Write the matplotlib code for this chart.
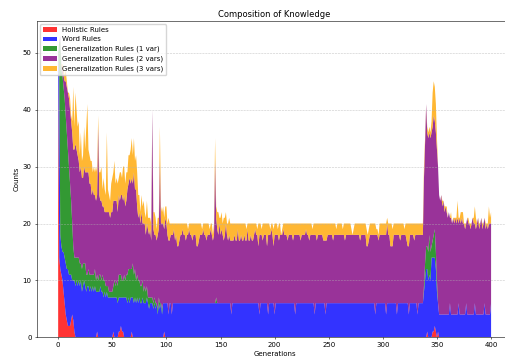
import matplotlib
matplotlib.use("Agg")
import matplotlib.pyplot as plt

# ---------------- data (generation 0..400) ----------------
holistic = [
    50,14,12,11,10,8,6,4,3,2,2,2,3,4,3,1,0,0,0,0,
    0,0,0,0,0,0,0,0,0,0,0,0,0,0,0,0,1,0,0,0,
    0,0,0,0,0,0,0,0,0,0,0,1,0,0,0,0,1,1,2,1,
    1,0,0,0,0,0,0,0,1,0,0,0,0,0,0,0,0,0,0,0,
    0,0,0,0,0,0,0,0,0,0,0,0,0,0,0,0,0,0,1,0,
    0,0,0,0,0,0,0,0,0,0,0,0,0,0,0,0,0,0,0,0,
    0,0,0,0,0,0,0,0,0,0,0,0,0,0,0,0,0,0,0,0,
    0,0,0,0,0,0,0,0,0,0,0,0,0,0,0,0,0,0,0,0,
    0,0,0,0,0,0,0,0,0,0,0,0,0,0,0,0,0,0,0,0,
    0,0,0,0,0,0,0,0,0,0,0,0,0,0,0,0,0,0,0,0,
    0,0,0,0,0,0,0,0,0,0,0,0,0,0,0,0,0,0,0,0,
    0,0,0,0,0,0,0,0,0,0,0,0,0,0,0,0,0,0,0,0,
    0,0,0,0,0,0,0,0,0,0,0,0,0,0,0,0,0,0,0,0,
    0,0,0,0,0,0,0,0,0,0,0,0,0,0,0,0,0,0,0,0,
    0,0,0,0,0,0,0,0,0,0,0,0,0,0,0,0,0,0,0,0,
    0,0,0,0,0,0,0,0,0,0,0,0,0,0,0,0,0,0,0,0,
    0,0,0,0,0,0,0,0,0,0,0,0,0,0,0,0,0,0,0,0,
    0,1,0,0,0,0,1,1,2,1,0,1,0,0,0,0,0,0,0,0,
    0,0,0,0,0,0,0,0,0,0,0,0,0,0,0,0,0,0,0,0,
    0,0,0,0,0,0,0,0,0,0,0,0,0,0,0,0,0,0,0,0,
    0,
]

word = [
    0,32,6,5,5,7,8,9,9,10,9,9,8,6,7,9,9,10,9,10,
    9,10,8,9,10,9,8,9,9,8,9,8,9,8,9,8,7,8,8,9,
    8,8,7,8,7,8,7,7,7,7,7,6,7,7,7,6,6,6,5,6,
    6,7,7,7,6,7,6,7,6,7,6,7,6,7,6,7,6,6,7,6,
    6,6,7,6,5,6,6,6,5,6,5,6,4,6,5,6,4,6,5,6,
    6,6,4,6,6,4,6,6,6,6,6,6,6,6,6,6,6,6,6,6,
    6,6,6,6,6,6,6,6,6,6,6,6,6,6,6,6,6,6,6,6,
    6,6,6,6,6,6,6,6,6,6,6,6,6,6,6,6,6,6,6,6,
    4,6,6,6,6,6,6,6,6,6,6,6,6,6,6,6,6,6,6,6,
    6,6,6,6,6,6,4,6,6,6,6,6,6,6,4,6,6,6,6,6,
    4,6,6,6,6,6,6,6,6,6,6,6,6,6,6,6,6,6,6,4,
    6,6,6,6,6,6,6,6,6,6,6,6,6,6,6,6,6,4,6,6,
    6,6,6,6,6,6,6,4,6,6,6,6,6,6,6,6,6,6,6,6,
    6,6,6,6,6,6,6,6,6,6,6,6,6,6,6,6,6,6,6,6,
    6,6,6,6,6,6,6,6,6,6,6,6,6,4,6,6,6,6,6,6,
    6,6,6,4,6,6,6,6,6,6,6,6,6,4,6,6,6,6,6,6,
    6,6,6,6,4,6,6,6,6,6,6,6,4,6,6,6,6,6,8,10,
    12,11,10,11,10,14,13,13,12,11,8,5,4,4,4,4,4,4,4,4,
    4,4,6,4,4,4,4,4,4,4,6,4,4,4,4,4,4,6,4,4,
    4,4,4,4,4,6,4,4,4,4,4,4,4,4,6,4,4,4,4,4,
    6,
]

gen_1var = [
    0,6,34,31,31,29,28,26,24,21,19,16,13,10,6,4,5,4,5,4,
    4,3,4,4,3,4,3,2,3,3,2,3,2,3,3,2,3,2,3,2,
    2,3,3,2,2,1,2,1,1,1,1,2,3,2,3,3,4,4,4,3,
    3,4,3,4,5,5,6,5,5,6,5,5,4,4,4,3,3,3,3,2,
    3,2,2,1,2,1,1,1,1,1,1,0,1,1,1,0,1,0,0,0,
    0,0,0,0,0,0,0,0,0,0,0,0,0,0,0,0,0,0,0,0,
    0,0,0,0,0,0,0,0,0,0,0,0,0,0,0,0,0,0,0,0,
    0,0,0,0,0,0,1,0,0,0,0,0,0,0,0,0,0,0,0,0,
    0,0,0,0,0,0,0,0,0,0,0,0,0,0,0,0,0,0,0,0,
    0,0,0,0,0,0,0,0,0,0,0,0,0,0,0,0,0,0,0,0,
    0,0,0,0,0,0,0,0,0,0,0,0,0,0,0,0,0,0,0,0,
    0,0,0,0,0,0,0,0,0,0,0,0,0,0,0,0,0,0,0,0,
    0,0,0,0,0,0,0,0,0,0,0,0,0,0,0,0,0,0,0,0,
    0,0,0,0,0,0,0,0,0,0,0,0,0,0,0,0,0,0,0,0,
    0,0,0,0,0,0,0,0,0,0,0,0,0,0,0,0,0,0,0,0,
    0,0,0,0,0,0,0,0,0,0,0,0,0,0,0,0,0,0,0,0,
    0,0,0,0,0,0,0,0,0,0,0,0,0,0,0,0,0,0,1,3,
    4,4,5,7,5,2,3,4,5,3,2,0,0,0,0,0,0,0,0,0,
    0,0,0,0,0,0,0,0,0,0,0,0,0,0,0,0,0,0,0,0,
    0,0,0,0,0,0,0,0,0,0,0,0,0,0,0,0,0,0,0,0,
    0,
]

gen_2vars = [
    0,0,1,1,1,2,3,6,8,10,12,13,14,16,17,19,20,19,18,17,
    16,17,16,15,17,16,18,18,17,16,16,14,15,14,13,14,14,27,14,13,
    14,12,13,12,13,13,13,14,13,14,14,15,14,15,14,13,14,13,14,15,
    14,14,13,13,15,15,16,15,16,14,18,14,16,12,11,12,11,13,10,12,
    11,10,11,12,11,12,10,33,13,11,12,11,13,12,25,14,15,14,13,15,
    14,12,13,11,12,14,12,13,11,12,10,10,11,12,12,13,12,12,11,12,
    12,13,12,12,11,12,12,12,10,10,11,12,12,12,13,12,12,11,12,12,
    12,13,12,11,12,25,14,13,12,14,12,13,12,11,12,14,12,11,12,11,
    13,11,11,12,11,11,13,11,11,12,11,11,12,11,11,13,11,11,12,11,
    11,12,13,12,12,10,14,12,12,11,12,12,12,10,14,12,12,13,12,10,
    14,12,12,12,11,12,12,12,13,12,12,12,11,12,12,12,12,11,12,14,
    12,12,12,12,11,12,12,12,12,13,12,12,11,12,12,12,12,14,12,11,
    12,12,12,12,12,11,11,13,11,12,12,12,12,12,11,12,12,12,12,12,
    12,12,12,12,12,11,12,12,12,12,12,12,12,12,12,12,12,12,12,11,
    12,12,12,12,12,10,10,11,12,12,12,12,12,14,12,12,11,12,12,12,
    12,12,12,14,14,12,12,10,10,10,12,12,12,14,12,12,11,12,12,12,
    12,12,11,10,12,12,12,12,12,11,12,12,14,12,12,12,12,12,19,21,
    25,20,20,18,20,20,20,21,19,21,23,24,21,20,21,19,20,18,19,18,
    17,18,15,17,16,17,16,17,16,17,14,17,16,17,16,16,15,14,17,16,
    16,15,16,17,16,14,15,16,17,15,16,17,15,16,15,15,16,15,16,16,
    14,
]

gen_3vars = [
    0,0,0,0,1,1,1,2,1,0,1,2,1,2,11,4,9,7,5,7,
    3,6,3,4,7,4,8,12,4,5,4,6,3,5,4,6,4,2,4,5,
    6,3,5,4,3,14,4,3,3,5,6,5,7,3,4,5,3,5,4,3,
    6,5,4,5,3,5,4,6,7,5,6,5,6,6,4,3,2,3,3,4,
    2,3,4,2,3,2,3,0,3,4,3,2,3,2,6,3,2,3,2,2,
    3,2,4,3,2,2,2,1,3,2,4,4,3,2,2,1,2,2,3,2,
    1,1,2,2,3,2,2,2,4,4,3,2,2,1,1,2,2,3,2,2,
    1,1,2,1,2,4,2,3,4,1,3,3,2,4,3,2,2,3,3,3,
    3,3,3,2,3,3,1,3,3,2,3,3,2,3,2,1,3,3,2,3,
    3,2,1,2,1,4,2,2,1,3,2,2,2,4,2,2,1,1,2,3,
    2,2,2,1,3,2,0,1,1,2,2,2,3,2,2,2,2,3,2,2,
    2,2,2,2,3,2,2,2,2,1,2,2,3,2,2,1,2,2,2,3,
    2,2,2,2,2,3,3,3,3,2,2,2,2,2,3,2,2,1,2,2,
    2,2,2,1,2,3,2,2,2,2,2,1,0,1,2,2,2,2,2,3,
    2,2,2,2,2,3,2,2,2,2,2,2,2,2,1,1,1,2,2,2,
    2,2,2,2,1,2,2,4,4,3,2,2,2,2,2,2,3,2,2,2,
    1,2,3,4,4,2,2,2,2,3,2,2,2,2,2,2,2,2,2,1,
    0,1,1,1,1,2,6,6,6,5,2,0,0,0,0,1,0,1,0,1,
    0,0,0,1,0,0,1,0,1,3,1,0,2,1,2,0,1,0,0,1,
    0,1,0,0,1,3,2,0,0,1,0,0,1,0,0,1,0,1,3,1,
    2,
]

generations = list(range(len(holistic)))

labels = ["Holistic Rules", "Word Rules", "Generalization Rules (1 var)",
          "Generalization Rules (2 vars)", "Generalization Rules (3 vars)"]
colors = ["red", "blue", "green", "purple", "orange"]

# ---------------- figure ----------------
fig = plt.figure(figsize=(5.05, 3.61), dpi=100)
ax = fig.add_axes([0.0723, 0.0657, 0.943, 0.877])

ax.stackplot(generations, holistic, word, gen_1var, gen_2vars, gen_3vars,
             labels=labels, colors=colors, alpha=0.8)

ax.set_title("Composition of Knowledge", fontsize=6, pad=3)
ax.set_xlabel("Generations", fontsize=5, labelpad=2)
ax.set_ylabel("Counts", fontsize=5, labelpad=2)
ax.set_xticks([0, 50, 100, 150, 200, 250, 300, 350, 400])
ax.set_yticks([0, 10, 20, 30, 40, 50])
ax.tick_params(labelsize=5, length=1.75, width=0.4, pad=1.75)
for s in ax.spines.values():
    s.set_linewidth(0.4)
ax.spines["right"].set_visible(False)
ax.grid(axis="y", linestyle="--", alpha=0.7, linewidth=0.4)
ax.legend(loc="upper left", fontsize=5)

fig.savefig("out.png", dpi=100)
